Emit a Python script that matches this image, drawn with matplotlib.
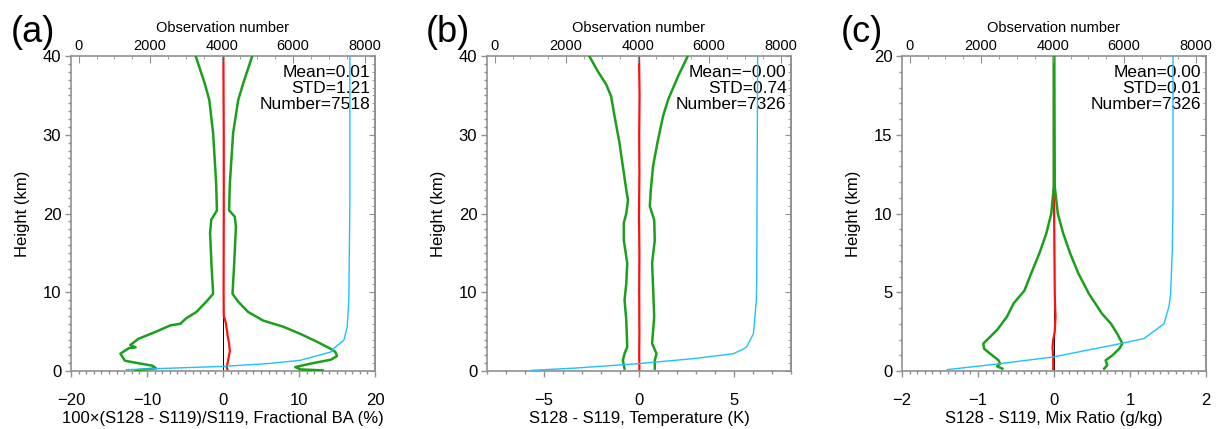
import numpy as np
import matplotlib
matplotlib.use("Agg")
import matplotlib.pyplot as plt
from matplotlib.ticker import MultipleLocator

plt.rcParams["font.family"] = ["Liberation Sans", "DejaVu Sans"]

# ---- panel (a): fractional bending angle ----
a_lo_h = [40, 36.5, 34.4, 30.2, 23.8, 20.4, 19.9, 19.2, 17.5, 13.2, 9.8, 8.8, 7.5, 6.65, 6.0, 5.8,
          5.0, 4.1, 3.3, 3.0, 2.9, 2.2, 1.3, 0.98, 0.68, 0.34, 0.09]
a_lo_x = [-3.6, -2.4, -1.8, -1.3, -0.9, -0.8, -1.1, -1.55, -1.7, -1.5, -1.3, -2.2, -3.5, -4.9, -5.6, -6.9,
          -8.8, -11.1, -12.2, -11.5, -12.4, -13.5, -12.9, -11.1, -9.3, -8.8, -11.5]
a_hi_h = [40, 36.5, 34.4, 30.2, 23.8, 20.4, 19.6, 18.3, 13.2, 9.8, 8.8, 7.5, 6.4, 5.6, 4.7, 3.7,
          2.8, 2.4, 1.9, 1.44, 0.93, 0.5, 0.2, 0.08]
a_hi_x = [3.85, 2.65, 2.0, 1.33, 0.9, 0.8, 1.55, 1.7, 1.45, 1.25, 2.0, 3.3, 5.3, 8.0, 10.2, 12.4,
          14.2, 14.8, 15.0, 14.2, 11.5, 9.5, 10.2, 13.1]
a_mean_h = [40, 30, 20, 10, 7.0, 6.7, 6.0, 5.5, 5.0, 4.5, 4.0, 3.5, 3.0, 2.5, 2.0, 1.5, 1.0, 0.5, 0.1]
a_mean_x = [0.05, 0.1, 0.1, 0.08, 0.1, 0.2, 0.4, 0.45, 0.55, 0.6, 0.7, 0.8, 0.85, 0.9, 0.8, 0.7, 0.6, 0.5, 0.6]
a_num_h = [0.17, 0.34, 0.59, 0.93, 1.36, 2.4, 3.05, 3.9, 5.6, 9.0, 21.7, 40]
a_num = [1338, 2460, 4050, 5267, 6202, 7044, 7184, 7418, 7512, 7558, 7587, 7587]

# ---- panel (b): temperature ----
b_lo_h = [40, 38.1, 36.4, 34.9, 32.4, 29, 26, 23, 21.7, 20, 18.8, 16.6, 13.7, 11.1, 9.0, 6.5,
          3.06, 2.2, 1.36, 0.3]
b_lo_x = [-2.62, -2.18, -1.73, -1.47, -1.29, -1.03, -0.85, -0.67, -0.58, -0.67, -0.8, -0.8, -0.62,
          -0.67, -0.76, -0.67, -0.62, -0.76, -0.85, -0.76]
b_hi_h = [40, 37.5, 34.5, 32.4, 29, 26, 23, 20.9, 19.2, 16.6, 13.7, 10.7, 6.9, 3.5, 2.2, 1.36, 0.3]
b_hi_x = [2.57, 2.07, 1.54, 1.27, 0.97, 0.74, 0.62, 0.57, 0.8, 0.83, 0.69, 0.74, 0.8, 0.69, 0.92,
          0.83, 0.83]
b_mean_h = [40, 35, 30, 25, 20, 15, 10, 5, 2, 0.1]
b_mean_x = [0.0, 0.03, 0.01, 0.02, 0.0, 0.02, 0.01, 0.02, 0.01, 0.02]
b_num_h = [0.08, 0.38, 0.93, 1.57, 2.2, 2.8, 3.06, 4.75, 9.0, 11.1, 40]
b_num = [1030, 2290, 4000, 5560, 6680, 6960, 7050, 7240, 7320, 7330, 7357]

# ---- panel (c): mixing ratio ----
c_lo_h = [20, 11.7, 10.0, 8.75, 7.5, 6.2, 5.1, 4.3, 3.44, 2.6, 2.17, 1.74, 1.42, 1.1, 0.68, 0.47,
          0.3, 0.15]
c_lo_x = [-0.003, -0.003, -0.036, -0.10, -0.19, -0.30, -0.39, -0.53, -0.62, -0.75, -0.84, -0.93,
          -0.92, -0.84, -0.73, -0.71, -0.75, -0.68]
c_hi_h = [20, 11.7, 10.0, 8.75, 7.5, 6.2, 4.9, 3.65, 3.0, 2.38, 1.74, 1.42, 1.0, 0.68, 0.36, 0.15]
c_hi_x = [0.003, 0.01, 0.05, 0.12, 0.21, 0.32, 0.46, 0.63, 0.75, 0.83, 0.90, 0.86, 0.77, 0.68,
          0.70, 0.66]
c_mean_h = [20, 12, 11, 8, 5, 4, 3.5, 3, 2.5, 2, 1.5, 1.2, 0.8, 0.4, 0.1]
c_mean_x = [0.0, 0.0, 0.0, 0.005, 0.01, 0.015, 0.02, 0.015, 0.01, -0.01, -0.02, -0.015, -0.01,
            -0.01, -0.01]
c_num_h = [0.085, 0.42, 0.89, 1.74, 2.06, 3.0, 4.1, 4.9, 7.7, 10.9, 20]
c_num = [1046, 2353, 4015, 5900, 6555, 7115, 7255, 7300, 7348, 7367, 7367]

panels = [
    dict(tag="(a)", lo=(a_lo_x, a_lo_h), hi=(a_hi_x, a_hi_h), mean=(a_mean_x, a_mean_h),
         num=(a_num, a_num_h), xlim=(-20, 20), xmaj=10, xmin=1, ylim=(0, 40), ymaj=10,
         xlabel="100×(S128 - S119)/S119, Fractional BA (%)",
         stats="Mean=0.01\nSTD=1.21\nNumber=7518"),
    dict(tag="(b)", lo=(b_lo_x, b_lo_h), hi=(b_hi_x, b_hi_h), mean=(b_mean_x, b_mean_h),
         num=(b_num, b_num_h), xlim=(-8, 8), xmaj=5, xmin=1, ylim=(0, 40), ymaj=10,
         xlabel="S128 - S119, Temperature (K)",
         stats="Mean=\u22120.00\nSTD=0.74\nNumber=7326"),
    dict(tag="(c)", lo=(c_lo_x, c_lo_h), hi=(c_hi_x, c_hi_h), mean=(c_mean_x, c_mean_h),
         num=(c_num, c_num_h), xlim=(-2, 2), xmaj=1, xmin=0.1, ylim=(0, 20), ymaj=5,
         xlabel="S128 - S119, Mix Ratio (g/kg)",
         stats="Mean=0.00\nSTD=0.01\nNumber=7326"),
]

lefts = [71 / 1217, 487 / 1217, 902 / 1217]
tag_x = [33 / 1217, 448 / 1217, 862 / 1217]
GREEN = "#1aa01a"
RED = "#ff1010"
CYAN = "#1ec0ff"
SPINE = "#909090"

fig = plt.figure(figsize=(12.17, 4.29), dpi=100)

for p, left, tx in zip(panels, lefts, tag_x):
    ax = fig.add_axes([left, 1 - 371 / 429, 304 / 1217, 315 / 429])
    ax.axvline(0, color="black", lw=0.7, zorder=1)
    ax.plot(p["mean"][0], p["mean"][1], color=RED, lw=1.6, zorder=2)
    ax.plot(p["lo"][0], p["lo"][1], color=GREEN, lw=1.8, zorder=3)
    ax.plot(p["hi"][0], p["hi"][1], color=GREEN, lw=1.8, zorder=3)
    ax.set_xlim(*p["xlim"])
    ax.set_ylim(*p["ylim"])

    # top axis: observation number
    top = ax.twiny()
    top.plot(p["num"][0], p["num"][1], color=CYAN, lw=1.0, zorder=4)
    top.set_xlim(-215, 8290)
    top.xaxis.set_major_locator(MultipleLocator(2000))
    top.xaxis.set_minor_locator(MultipleLocator(500))
    top.tick_params(which="both", direction="in", color=SPINE, labelsize=10.5, pad=2)
    top.tick_params(which="major", length=5)
    top.tick_params(which="minor", length=2.5)
    top.set_xlabel("Observation number", fontsize=10.5, labelpad=5)
    for s in top.spines.values():
        s.set_visible(False)

    ax.xaxis.set_major_locator(MultipleLocator(p["xmaj"]))
    ax.xaxis.set_minor_locator(MultipleLocator(p["xmin"]))
    ax.yaxis.set_major_locator(MultipleLocator(p["ymaj"]))
    ax.yaxis.set_minor_locator(MultipleLocator(1))
    ax.tick_params(which="both", direction="out", color=SPINE, labelsize=12, width=1)
    ax.tick_params(which="major", length=4)
    ax.tick_params(which="minor", length=2)
    ax.xaxis.set_tick_params(which="major", pad=12)
    ax.yaxis.set_tick_params(which="major", pad=3)
    ax.set_xlabel(p["xlabel"], fontsize=12, labelpad=2)
    ax.set_ylabel("Height (km)", fontsize=12, labelpad=9)
    for s in ax.spines.values():
        s.set_color(SPINE)
        s.set_linewidth(1.2)

    # right ticks pointing inward
    ry = ax.secondary_yaxis("right")
    ry.yaxis.set_major_locator(MultipleLocator(p["ymaj"]))
    ry.yaxis.set_minor_locator(MultipleLocator(1))
    ry.tick_params(which="both", direction="in", color=SPINE, labelright=False)
    ry.tick_params(which="major", length=4)
    ry.tick_params(which="minor", length=2)
    ry.spines["right"].set_color(SPINE)
    ry.spines["right"].set_linewidth(1.2)

    ax.text(0.985, 0.97, p["stats"], transform=ax.transAxes, ha="right", va="top",
            fontsize=12.5, linespacing=1.08, zorder=6)
    fig.text(tx, 1 - 32 / 429, p["tag"], ha="center", va="center", fontsize=26)

fig.savefig("out.png", dpi=100)
